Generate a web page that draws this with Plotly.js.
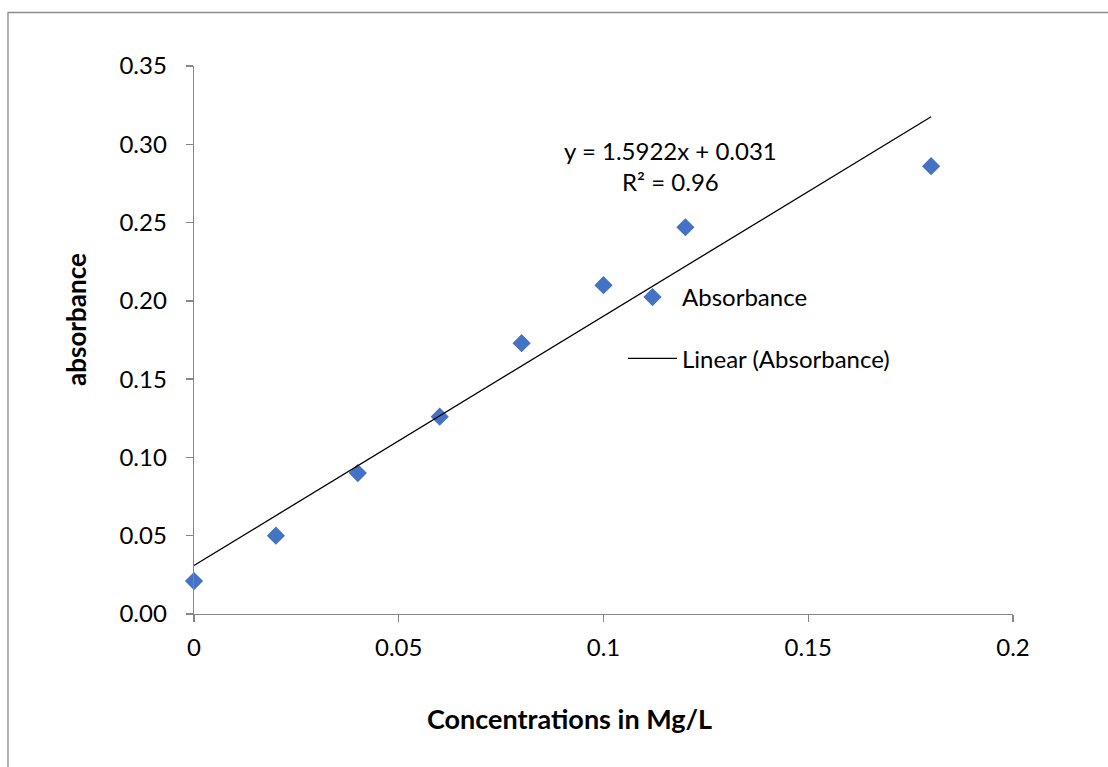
<!DOCTYPE html>
<html>
<head>
<meta charset="utf-8">
<script src="https://cdn.plot.ly/plotly-3.0.1.min.js"></script>
<style>
html,body{margin:0;padding:0;background:#fff;}
#chart{width:1108px;height:767px;}
</style>
</head>
<body>
<div id="chart"></div>
<script>
const concentrations = [0, 0.02, 0.04, 0.06, 0.08, 0.10, 0.12, 0.18];
const absorbance = [0.021, 0.050, 0.090, 0.126, 0.173, 0.210, 0.247, 0.286];
const trendX = [0, 0.18];
const trendY = [0.031, 0.3176];
const yTicks = [0, 0.05, 0.10, 0.15, 0.20, 0.25, 0.30, 0.35];
const yTickLabels = ["0.00", "0.05", "0.10", "0.15", "0.20", "0.25", "0.30", "0.35"];
const xTicks = [0, 0.05, 0.1, 0.15, 0.2];
const xTickLabels = ["0", "0.05", "0.1", "0.15", "0.2"];
const equationText = "y = 1.5922x + 0.031<br>R² = 0.96";

const FONT = "Lato, 'Open Sans', sans-serif";
const ML = 194, MR = 95, MT = 66, MB = 153;
const PW = 1108 - ML - MR, PH = 767 - MT - MB;
const px = v => (v - ML) / PW;
const py = v => (767 - MB - v) / PH;

const traces = [
  {
    x: concentrations, y: absorbance, type: 'scatter', mode: 'markers',
    name: 'Absorbance', legendgroup: 'a', cliponaxis: false,
    marker: {symbol: 'diamond', size: 14, color: '#4472C4'}
  },
  {
    x: trendX, y: trendY, type: 'scatter', mode: 'lines',
    name: 'Linear (Absorbance)', legendgroup: 'b',
    line: {color: '#000000', width: 1.3}
  }
];

const axisCommon = {
  showgrid: false, zeroline: false, showline: true,
  linecolor: '#868686', linewidth: 1.3,
  ticks: 'outside', tickcolor: '#868686', ticklen: 7, tickwidth: 1.3,
  tickfont: {family: FONT, size: 24, color: '#000'}
};

const layout = {
  width: 1108, height: 767,
  margin: {l: ML, r: MR, t: MT, b: MB, pad: 0},
  paper_bgcolor: '#fff', plot_bgcolor: '#fff',
  font: {family: FONT, size: 24, color: '#000'},
  xaxis: Object.assign({}, axisCommon, {
    range: [0, 0.2], tickvals: xTicks, ticktext: xTickLabels, ticklabelstandoff: 5
  }),
  yaxis: Object.assign({}, axisCommon, {
    range: [0, 0.35], tickvals: yTicks, ticktext: yTickLabels, ticklabelstandoff: 14
  }),
  showlegend: true,
  legend: {
    x: px(623), y: py(275), xanchor: 'left', yanchor: 'top',
    bgcolor: 'rgba(0,0,0,0)', traceorder: 'grouped', tracegroupgap: 27,
    font: {family: FONT, size: 24, color: '#000'}, itemwidth: 49
  },
  annotations: [
    {xref: 'paper', yref: 'paper', x: px(670), y: py(166), text: equationText,
     showarrow: false, align: 'center', xanchor: 'center', yanchor: 'middle',
     font: {family: FONT, size: 24, color: '#000'}},
    {xref: 'paper', yref: 'paper', x: px(76), y: py(320), text: '<b>absorbance</b>',
     textangle: -90, showarrow: false, xanchor: 'center', yanchor: 'middle',
     font: {family: FONT, size: 26, color: '#000'}},
    {xref: 'paper', yref: 'paper', x: px(569), y: py(718), text: '<b>Concentrations in Mg/L</b>',
     showarrow: false, xanchor: 'center', yanchor: 'middle',
     font: {family: FONT, size: 27, color: '#000'}}
  ],
  shapes: [
    {type: 'rect', xref: 'paper', yref: 'paper', x0: px(8), x1: px(1130), y0: py(790), y1: py(12.5),
     line: {color: '#8a8a8a', width: 1.3}, fillcolor: 'rgba(0,0,0,0)', layer: 'below'}
  ]
};

Plotly.newPlot('chart', traces, layout, {displayModeBar: false, staticPlot: true});
</script>
</body>
</html>
